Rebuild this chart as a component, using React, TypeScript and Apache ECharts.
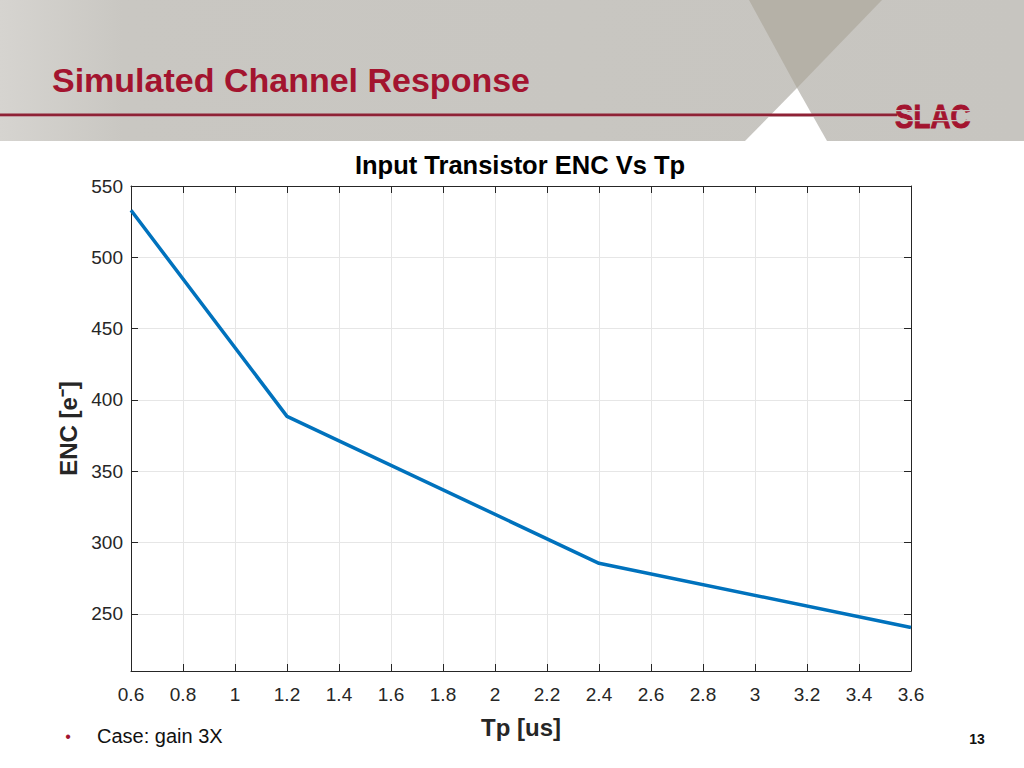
import React, { useEffect, useRef } from "react";
import * as echarts from "echarts";

const tpValues = [0.6, 1.2, 2.4, 3.6];
const encValues = [533, 388.5, 285.5, 240.5];
const xTicks = [0.6, 0.8, 1.0, 1.2, 1.4, 1.6, 1.8, 2.0, 2.2, 2.4, 2.6, 2.8, 3.0, 3.2, 3.4, 3.6];
const yTicks = [250, 300, 350, 400, 450, 500, 550];
const chartTitle = "Input Transistor ENC Vs Tp";
const xName = "Tp [us]";
const yName = "ENC [e\u207B]";
const slideTitle = "Simulated Channel Response";
const bulletText = "Case: gain 3X";
const pageNumber = "13";

const FONT = "'Liberation Sans', Arial, Helvetica, sans-serif";

export default function App() {
  const ref = useRef<HTMLDivElement>(null);
  useEffect(() => {
    if (!ref.current) return;
    const chart = echarts.init(ref.current, null, { renderer: "svg" });
    const axisColor = "#262626";
    const gridColor = "#e6e6e6";
    const fmt = (v: number) => String(parseFloat(Number(v).toFixed(1)));
    chart.setOption({
      animation: false,
      backgroundColor: "#ffffff",
      textStyle: { fontFamily: FONT },
      grid: { left: 131, top: 186, width: 780, height: 485, containLabel: false },
      xAxis: [
        {
          type: "value",
          min: 0.6,
          max: 3.6,
          position: "bottom",
          name: xName,
          nameLocation: "middle",
          nameGap: 44,
          nameTextStyle: { fontSize: 24, fontWeight: "bold", color: axisColor, fontFamily: FONT },
          axisLine: { show: true, lineStyle: { color: axisColor, width: 1 } },
          axisTick: { show: true, inside: true, length: 7, customValues: xTicks, lineStyle: { color: axisColor } },
          axisLabel: { customValues: xTicks, formatter: fmt, fontSize: 19, color: axisColor, margin: 14, fontFamily: FONT },
          splitLine: { show: true, lineStyle: { color: gridColor, width: 1 } },
        },
        {
          type: "value",
          min: 0.6,
          max: 3.6,
          position: "top",
          axisLine: { show: true, lineStyle: { color: axisColor, width: 1 } },
          axisTick: { show: true, inside: true, length: 7, customValues: xTicks, lineStyle: { color: axisColor } },
          axisLabel: { show: false },
          splitLine: { show: false },
        },
      ],
      yAxis: [
        {
          type: "value",
          min: 210,
          max: 550,
          position: "left",
          name: yName,
          nameLocation: "middle",
          nameGap: 50,
          nameTextStyle: { fontSize: 24, fontWeight: "bold", color: axisColor, fontFamily: FONT },
          axisLine: { show: true, lineStyle: { color: axisColor, width: 1 } },
          axisTick: { show: true, inside: true, length: 7, customValues: yTicks, lineStyle: { color: axisColor } },
          axisLabel: { customValues: yTicks, fontSize: 19, color: axisColor, margin: 8, fontFamily: FONT },
          splitLine: { show: true, lineStyle: { color: gridColor, width: 1 } },
        },
        {
          type: "value",
          min: 210,
          max: 550,
          position: "right",
          axisLine: { show: true, lineStyle: { color: axisColor, width: 1 } },
          axisTick: { show: true, inside: true, length: 7, customValues: yTicks, lineStyle: { color: axisColor } },
          axisLabel: { show: false },
          splitLine: { show: false },
        },
      ],
      series: [
        {
          type: "line",
          xAxisIndex: 0,
          yAxisIndex: 0,
          data: tpValues.map((t, i) => [t, encValues[i]]),
          showSymbol: false,
          symbol: "none",
          lineStyle: { color: "#0072bd", width: 3.5 },
        },
      ],
      graphic: [
        {
          type: "rect",
          z: -10,
          shape: { x: 0, y: 0, width: 1024, height: 141 },
          style: {
            fill: new echarts.graphic.LinearGradient(0, 0, 1, 0, [
              { offset: 0, color: "#d6d4d0" },
              { offset: 0.12, color: "#c9c7c2" },
              { offset: 1, color: "#c7c5c0" },
            ]),
          },
        },
        {
          type: "polygon",
          z: -9,
          shape: { points: [[749, 0], [882, 0], [797, 88]] },
          style: { fill: "#b5b1a7" },
        },
        {
          type: "polygon",
          z: -9,
          shape: { points: [[797, 88], [745, 141], [827, 141]] },
          style: { fill: "#ffffff" },
        },
        {
          type: "rect",
          z: -8,
          shape: { x: 0, y: 113.5, width: 897, height: 2.5 },
          style: { fill: "#8f2236" },
        },
        {
          type: "rect",
          z: -8,
          shape: { x: 0, y: 116, width: 897, height: 1 },
          style: { fill: "#c49aa2" },
        },
        {
          type: "text",
          x: 52,
          y: 80,
          style: {
            text: slideTitle,
            fontSize: 34,
            fontWeight: "bold",
            fontFamily: FONT,
            fill: "#a3142f",
            textAlign: "left",
            textVerticalAlign: "middle",
          },
        },
        {
          type: "text",
          x: 895,
          y: 116,
          scaleX: 0.84,
          style: {
            text: "SLAC",
            fontSize: 33,
            fontWeight: 900,
            fontFamily: FONT,
            fill: "#a3142f",
            stroke: "#a3142f",
            lineWidth: 1,
            textAlign: "left",
            textVerticalAlign: "middle",
          },
        },
        {
          type: "rect",
          shape: { x: 893, y: 110, width: 82, height: 1.2 },
          style: { fill: "#c7c5c0" },
        },
        {
          type: "rect",
          shape: { x: 893, y: 120, width: 82, height: 1.2 },
          style: { fill: "#c7c5c0" },
        },
        {
          type: "text",
          x: 520,
          y: 165,
          style: {
            text: chartTitle,
            fontSize: 25.5,
            fontWeight: "bold",
            fontFamily: FONT,
            fill: "#000000",
            textAlign: "center",
            textVerticalAlign: "middle",
          },
        },
        {
          type: "text",
          x: 68,
          y: 736,
          style: {
            text: "\u2022",
            fontSize: 16,
            fontFamily: FONT,
            fill: "#a3142f",
            textAlign: "center",
            textVerticalAlign: "middle",
          },
        },
        {
          type: "text",
          x: 97,
          y: 736,
          style: {
            text: bulletText,
            fontSize: 20,
            fontFamily: FONT,
            fill: "#111111",
            textAlign: "left",
            textVerticalAlign: "middle",
          },
        },
        {
          type: "text",
          x: 977,
          y: 739,
          style: {
            text: pageNumber,
            fontSize: 14,
            fontWeight: "bold",
            fontFamily: FONT,
            fill: "#111111",
            textAlign: "center",
            textVerticalAlign: "middle",
          },
        },
      ],
    });
    return () => chart.dispose();
  }, []);
  return (
    <div
      ref={ref}
      style={{ position: "fixed", left: 0, top: 0, width: 1024, height: 768, background: "#fff" }}
    />
  );
}
